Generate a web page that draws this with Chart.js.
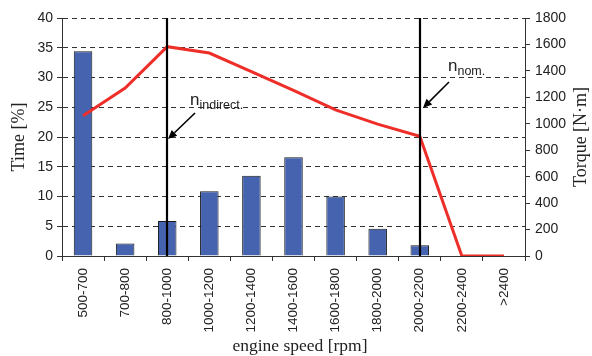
<!DOCTYPE html>
<html><head><meta charset="utf-8">
<script src="https://cdn.jsdelivr.net/npm/chart.js@4/dist/chart.umd.min.js"></script>
<style>html,body{margin:0;padding:0;background:#fff}canvas{display:block}</style>
</head><body>
<canvas id="c" width="592" height="356"></canvas>
<script>
// ---- data ----
const categories = ['500-700','700-800','800-1000','1000-1200','1200-1400','1400-1600','1600-1800','1800-2000','2000-2200','2200-2400','>2400'];
const timePercent = [34.4, 2.1, 5.9, 10.9, 13.5, 16.6, 10.0, 4.6, 1.8, 0, 0];
const torqueNm = [1060, 1270, 1583, 1535, 1395, 1252, 1105, 997, 905, 0, 0];
const timeAxis = { min: 0, max: 40, step: 5 };
const torqueAxis = { min: 0, max: 1800, step: 200 };
const markerCategories = ['800-1000', '2000-2200'];
const markerLabels = [['n', 'indirect.'], ['n', 'nom.']];
const axisTitles = { x: 'engine speed [rpm]', yLeft: 'Time [%]', yRight: 'Torque [N\u00b7m]' };

// ---- styling ----
const SANS = '"Liberation Sans", Arial, sans-serif';
const SERIF = '"Liberation Serif", "Times New Roman", serif';
const markerStyle = [
  { text: [23, 105], arrowFrom: [28, 113], arrowTo: [1, 139] },
  { text: [28, 71], arrowFrom: [29, 82], arrowTo: [3, 108] }
];

function arrow(ctx, x1, y1, x2, y2) {
  const a = Math.atan2(y2 - y1, x2 - x1), L = 9, W = 4;
  const bx = x2 - L * Math.cos(a), by = y2 - L * Math.sin(a);
  ctx.beginPath(); ctx.moveTo(x1, y1); ctx.lineTo(bx, by); ctx.stroke();
  ctx.beginPath(); ctx.moveTo(x2, y2);
  ctx.lineTo(bx + W * Math.sin(a), by - W * Math.cos(a));
  ctx.lineTo(bx - W * Math.sin(a), by + W * Math.cos(a));
  ctx.closePath(); ctx.fill();
}

const overlay = {
  id: 'overlay',
  afterDatasetsDraw(chart) {
    const ctx = chart.ctx, xs = chart.scales.x, area = chart.chartArea;
    ctx.save();
    markerCategories.forEach((cat, i) => {
      const x = Math.round(xs.getPixelForValue(categories.indexOf(cat)));
      ctx.strokeStyle = '#000'; ctx.fillStyle = '#000'; ctx.lineWidth = 2.2;
      ctx.beginPath(); ctx.moveTo(x, area.top); ctx.lineTo(x, area.bottom); ctx.stroke();
      const s = markerStyle[i];
      ctx.lineWidth = 1.6;
      arrow(ctx, x + s.arrowFrom[0], s.arrowFrom[1], x + s.arrowTo[0], s.arrowTo[1]);
      ctx.fillStyle = '#222'; ctx.textAlign = 'left'; ctx.textBaseline = 'alphabetic';
      ctx.font = '17px ' + SANS;
      ctx.fillText(markerLabels[i][0], x + s.text[0], s.text[1]);
      const w = ctx.measureText(markerLabels[i][0]).width;
      ctx.font = '12.5px ' + SANS;
      ctx.fillText(markerLabels[i][1], x + s.text[0] + w, s.text[1] + 4);
    });
    ctx.restore();
  },
  afterDraw(chart) {
    const ctx = chart.ctx, area = chart.chartArea;
    const cy = (area.top + area.bottom) / 2;
    ctx.save();
    ctx.fillStyle = '#222'; ctx.textAlign = 'center'; ctx.textBaseline = 'middle';
    ctx.font = '18px ' + SERIF;
    ctx.save(); ctx.translate(19, cy); ctx.rotate(-Math.PI / 2); ctx.fillText(axisTitles.yLeft, 0, 0); ctx.restore();
    ctx.save(); ctx.translate(581, cy); ctx.rotate(-Math.PI / 2); ctx.fillText(axisTitles.yRight, 0, 0); ctx.restore();
    ctx.font = '17.5px ' + SERIF;
    ctx.fillText(axisTitles.x, 300, 346);
    ctx.restore();
  }
};

new Chart(document.getElementById('c'), {
  data: {
    labels: categories,
    datasets: [
      { type: 'line', data: torqueNm, yAxisID: 'y1', borderColor: '#EE2E28', borderWidth: 3,
        pointRadius: 0, tension: 0, order: 0 },
      { type: 'bar', data: timePercent, yAxisID: 'y', backgroundColor: '#4563AE',
        borderColor: '#1a1a1a', borderWidth: c => (c.raw ? 1 : 0), borderSkipped: 'start',
        categoryPercentage: 1, barPercentage: 0.44, order: 1 }
    ]
  },
  options: {
    responsive: false, animation: false, devicePixelRatio: 1,
    layout: { padding: { top: 18, left: 0, right: 0, bottom: 0 } },
    plugins: { legend: { display: false }, tooltip: { enabled: false } },
    scales: {
      x: {
        type: 'category', offset: true,
        grid: { offset: true, drawOnChartArea: false, drawTicks: true, tickLength: 5, color: '#333' },
        border: { color: '#333', width: 1 },
        ticks: { minRotation: 90, maxRotation: 90, padding: 7, autoSkip: false,
          font: { family: SANS, size: 13.5 }, color: '#222' },
        afterFit(s) { s.height = 100; }
      },
      y: {
        position: 'left', min: timeAxis.min, max: timeAxis.max,
        grid: { color: '#333', lineWidth: 1, tickLength: 5, tickBorderDash: [] },
        border: { dash: [5, 4], color: '#333', width: 1 },
        ticks: { stepSize: timeAxis.step, padding: 4, font: { family: SANS, size: 14 }, color: '#222',
          callback: v => String(v) },
        afterFit(s) { s.width = 62; }
      },
      y1: {
        position: 'right', min: torqueAxis.min, max: torqueAxis.max,
        grid: { drawOnChartArea: false, tickLength: 5, color: '#333' },
        border: { color: '#333', width: 1 },
        ticks: { stepSize: torqueAxis.step, padding: 5, font: { family: SANS, size: 14 }, color: '#222',
          callback: v => String(v) },
        afterFit(s) { s.width = 67; }
      }
    }
  },
  plugins: [overlay]
});
</script>
</body></html>
